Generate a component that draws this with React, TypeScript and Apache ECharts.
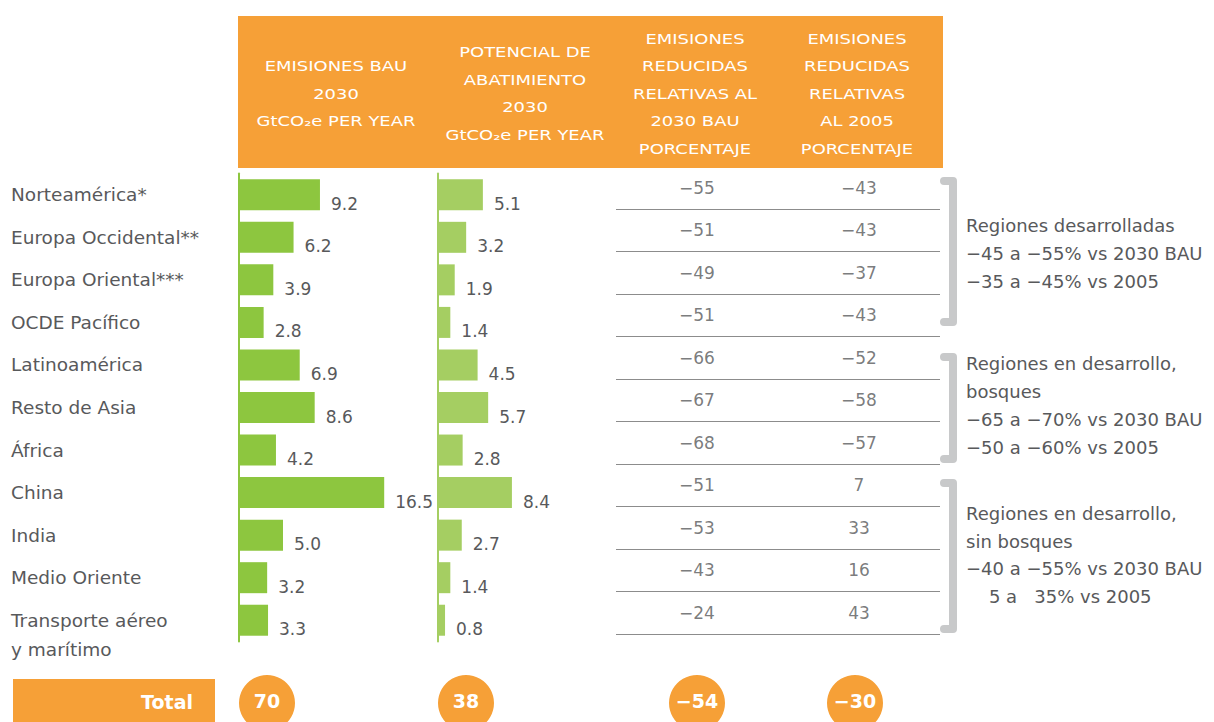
import React, { useEffect, useRef } from "react";
import * as echarts from "echarts";

const regions = [
  "Norteamérica*",
  "Europa Occidental**",
  "Europa Oriental***",
  "OCDE Pacífico",
  "Latinoamérica",
  "Resto de Asia",
  "África",
  "China",
  "India",
  "Medio Oriente",
  "Transporte aéreo\ny marítimo",
];
const bau2030 = [9.2, 6.2, 3.9, 2.8, 6.9, 8.6, 4.2, 16.5, 5.0, 3.2, 3.3];
const abatement2030 = [5.1, 3.2, 1.9, 1.4, 4.5, 5.7, 2.8, 8.4, 2.7, 1.4, 0.8];
const reducedVsBau = [-55, -51, -49, -51, -66, -67, -68, -51, -53, -43, -24];
const reducedVs2005 = [-43, -43, -37, -43, -52, -58, -57, 7, 33, 16, 43];
const totals = [70, 38, -54, -30];
const pctColumns = ["2030 BAU", "2005"];

const headers = [
  "EMISIONES BAU\n2030\nGtCO₂e PER YEAR",
  "POTENCIAL DE\nABATIMIENTO\n2030\nGtCO₂e PER YEAR",
  "EMISIONES\nREDUCIDAS\nRELATIVAS AL\n2030 BAU\nPORCENTAJE",
  "EMISIONES\nREDUCIDAS\nRELATIVAS\nAL 2005\nPORCENTAJE",
];
const groupTexts = [
  "Regiones desarrolladas\n−45 a −55% vs 2030 BAU\n−35 a −45% vs 2005",
  "Regiones en desarrollo,\nbosques\n−65 a −70% vs 2030 BAU\n−50 a −60% vs 2005",
  "Regiones en desarrollo,\nsin bosques\n−40 a −55% vs 2030 BAU\n\u2007\u20075 a \u200735% vs 2005",
];

const FONT = "'DejaVu Sans', sans-serif";
const ORANGE = "#F6A037";
const GREEN1 = "#8DC63F";
const GREEN2 = "#A5CE62";
const GREY = "#58595B";

const fmt = (v: number) => (v < 0 ? "\u2212" + Math.abs(v) : String(v));

export default function App() {
  const ref = useRef<HTMLDivElement>(null);
  useEffect(() => {
    document.body.style.margin = "0";
    const chart = echarts.init(ref.current!, null, { renderer: "svg" });

    const headerX = [336, 525, 695, 857];
    const totalX = [267, 466, 697, 855];
    const rowTop = 173.5;
    const rowH = 468;

    const barYAxis = (idx: number, color: string, showLabels: boolean) => ({
      type: "category",
      gridIndex: idx,
      data: regions,
      inverse: true,
      axisLine: { show: true, lineStyle: { color, width: 2 } },
      axisTick: { show: false },
      axisLabel: showLabels
        ? {
            show: true,
            interval: 0,
            hideOverlap: false,
            align: "left",
            margin: 228,
            color: GREY,
            fontFamily: FONT,
            fontSize: 18.5,
            lineHeight: 29,
            formatter: (v: string) => {
              const [a, b = ""] = v.split("\n");
              return "\n" + a + "\n" + b;
            },
          }
        : { show: false },
    });

    const valueLabel = {
      show: true,
      position: "right",
      distance: 11,
      offset: [0, 9],
      color: GREY,
      fontFamily: FONT,
      fontSize: 17,
      formatter: (p: any) => Number(p.value).toFixed(1),
    };

    const graphics: any[] = [
      { type: "rect", shape: { x: 238, y: 16, width: 705, height: 152 }, style: { fill: ORANGE } },
      ...headers.map((t, i) => ({
        type: "text",
        x: headerX[i],
        y: 94,
        scaleX: 1.33,
        style: {
          text: t,
          fill: "#ffffff",
          font: `13.5px ${FONT}`,
          textAlign: "center",
          textVerticalAlign: "middle",
          lineHeight: 27.5,
        },
      })),
      // brackets
      ...[
        [181, 322],
        [357, 459],
        [483, 629],
      ].map(([a, b]) => ({
        type: "polyline",
        shape: { points: [[944, a], [953, a], [953, b], [944, b]] },
        style: { stroke: "#C8C9CA", lineWidth: 8, lineJoin: "round", lineCap: "round", fill: "none" },
      })),
      ...groupTexts.map((t, i) => ({
        type: "text",
        x: 966,
        y: [253.5, 405.5, 555][i],
        style: {
          text: t,
          fill: GREY,
          font: `18px ${FONT}`,
          textAlign: "left",
          textVerticalAlign: "middle",
          lineHeight: 27.8,
        },
      })),
      // total row
      { type: "rect", shape: { x: 13, y: 679, width: 202, height: 60 }, style: { fill: ORANGE } },
      {
        type: "text",
        x: 193,
        y: 702,
        style: {
          text: "Total",
          fill: "#ffffff",
          font: `bold 19px ${FONT}`,
          textAlign: "right",
          textVerticalAlign: "middle",
        },
      },
      ...totals.map((v, i) => ({
        type: "group",
        children: [
          { type: "circle", shape: { cx: totalX[i], cy: 703, r: 28 }, style: { fill: ORANGE } },
          {
            type: "text",
            x: totalX[i],
            y: 701,
            style: {
              text: fmt(v),
              fill: "#ffffff",
              font: `bold 19px ${FONT}`,
              textAlign: "center",
              textVerticalAlign: "middle",
            },
          },
        ],
      })),
    ];

    chart.setOption({
      animation: false,
      grid: [
        { left: 239, top: rowTop, width: 176, height: rowH },
        { left: 438, top: rowTop, width: 176, height: rowH },
        { left: 616, top: 166.5, width: 324, height: 467.5 },
      ],
      xAxis: [
        { type: "value", gridIndex: 0, min: 0, max: 20, show: false },
        { type: "value", gridIndex: 1, min: 0, max: 20, show: false },
        { type: "category", gridIndex: 2, data: pctColumns, show: false },
      ],
      yAxis: [
        barYAxis(0, GREEN1, true),
        barYAxis(1, GREEN2, false),
        {
          type: "category",
          gridIndex: 2,
          data: regions,
          inverse: true,
          axisLine: { show: false },
          axisTick: { show: false },
          axisLabel: { show: false },
          splitLine: { show: true, showMinLine: false, lineStyle: { color: "#8C8C8C", width: 1 } },
        },
      ],
      series: [
        {
          type: "bar",
          xAxisIndex: 0,
          yAxisIndex: 0,
          data: bau2030,
          barWidth: 31,
          itemStyle: { color: GREEN1 },
          label: valueLabel,
        },
        {
          type: "bar",
          xAxisIndex: 1,
          yAxisIndex: 1,
          data: abatement2030,
          barWidth: 31,
          itemStyle: { color: GREEN2 },
          label: valueLabel,
        },
        ...[reducedVsBau, reducedVs2005].map((arr, c) => ({
          type: "scatter",
          xAxisIndex: 2,
          yAxisIndex: 2,
          symbolSize: 0,
          data: arr.map((v, i) => [pctColumns[c], regions[i], v]),
          label: {
            show: true,
            position: "inside",
            color: GREY,
            fontFamily: FONT,
            fontSize: 17,
            formatter: (p: any) => fmt(p.value[2]),
          },
        })),
      ],
      graphic: graphics,
    });

    return () => chart.dispose();
  }, []);

  return <div ref={ref} style={{ width: 1214, height: 722 }} />;
}
